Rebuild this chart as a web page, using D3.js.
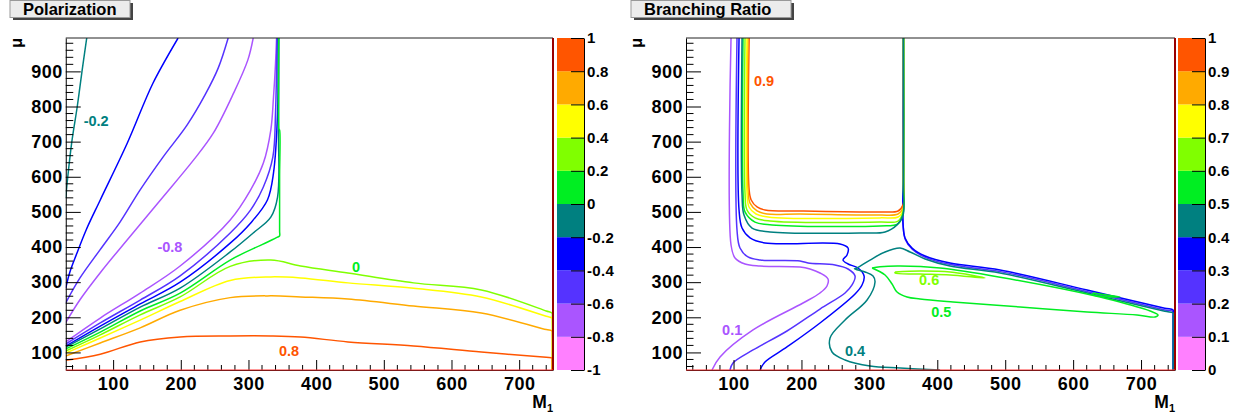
<!DOCTYPE html>
<html>
<head>
<meta charset="utf-8">
<script src="https://cdn.jsdelivr.net/npm/d3@7"></script>
<style>
body { margin: 0; background: #fff; }
svg { display: block; font-family: "Liberation Sans", Arial, sans-serif; font-weight: bold; }
</style>
</head>
<body>
<svg id="chart" width="1242" height="414"></svg>
<script>
// axis values
const xTicks = [100, 200, 300, 400, 500, 600, 700];
const yTicks = [100, 200, 300, 400, 500, 600, 700, 800, 900];

// palettes (one colour per band, bottom to top)
const bandColors = ["#ff80ff", "#aa55ff", "#5533ff", "#0000ff", "#008080", "#00ee22", "#80ff00", "#ffff00", "#ffaa00", "#ff5500"];
const polBands = [-1, -0.8, -0.6, -0.4, -0.2, 0, 0.2, 0.4, 0.6, 0.8, 1];
const polBandLabels = ["-1", "-0.8", "-0.6", "-0.4", "-0.2", "0", "0.2", "0.4", "0.6", "0.8", "1"];
const brBands = [0, 0.1, 0.2, 0.3, 0.4, 0.5, 0.6, 0.7, 0.8, 0.9, 1];
const brBandLabels = ["0", "0.1", "0.2", "0.3", "0.4", "0.5", "0.6", "0.7", "0.8", "0.9", "1"];

// Polarization contours, [M1, mu]
const pol_m02_a = [[30,540],[33,600],[39,700],[47,800],[54,900],[61,995]];
const pol_m04_a = [[30,283],[36,328],[46,380],[60,448],[81,534],[121,696],[159,867],[196,995]];
const pol_m06_a = [[30,241],[51,312],[80.6,392],[110.2,471],[139.7,562],[173.7,656],[209.2,747],[235.8,833],[255.4,910],[270,995]];
const pol_m08_a = [[30,185],[51,250],[81,327],[121,421],[170,534],[219,648],[248,724],[278,838],[299,932],[307,995]];
const pol_m08_b = [[30,130],[81,198],[140,269],[199,346],[273,477],[303,562],[322,639],[333,733],[337,827],[340,924],[341.5,995]];
const pol_m06_b = [[30,124],[81,184],[140,249],[199,318],[273,440],[303,505],[322,571],[336,656],[340,782],[342,995]];
const pol_m04_b = [[30,118],[81,175],[140,238],[199,300],[273,411],[303,468],[328,534],[337,611],[343,782],[343.7,995]];
const pol_m02_b = [[30,115],[81,167],[140,229],[199,283],[273,386],[307,440],[333,485],[343,542],[344.4,733],[345,995]];
const pol_00 = [[30,110],[81,158],[140,218],[199,269],[273,363],[320,407],[343,428],[346,432],[346,445],[346,600],[346,733],[345,736],[344.5,750],[344.5,995]];
const pol_02 = [[30,104],[81,150],[140,207],[199,258],[273,345],[333,363],[377,346],[447,326],[544,298],[644,278],[740,218],[748.5,212],[749,200],[749,50]];
const pol_04 = [[30,98],[81,141],[140,192],[199,245],[273,305],[333,315],[377,312],[447,298],[544,283],[644,258],[740,203],[748.5,198],[749,186],[749,50]];
const pol_06 = [[30,90],[81,127],[140,170],[199,220],[273,256],[333,261],[377,258],[447,252],[544,232],[644,212],[740,165],[748.5,161],[749,150],[749,50]];
const pol_08 = [[30,78],[81,95],[140,130],[199,144],[273,147],[333,147],[377,144],[447,130],[544,118],[644,101],[740,86],[748.5,84],[749,75],[749,50]];

const polContours = [
  [-0.2, pol_m02_a], [-0.4, pol_m04_a], [-0.6, pol_m06_a], [-0.8, pol_m08_a],
  [-0.8, pol_m08_b], [-0.6, pol_m06_b], [-0.4, pol_m04_b], [-0.2, pol_m02_b],
  [0, pol_00], [0.2, pol_02], [0.4, pol_04], [0.6, pol_06], [0.8, pol_08]
];
const polLabels = [["-0.2", 75, 759, -0.2], ["-0.8", 184, 400, -0.8], ["0", 459, 343, 0], ["0.8", 360, 104, 0.8]];

// Branching ratio contours, [M1, mu]
const br_09 = [[123,995],[123,562],[126,534],[134.6,514],[146.3,505.5],[197.9,502.6],[315.7,499.8],[342.2,502.6],[349.6,520],[350.3,600],[350.3,995]];
const br_08 = [[121.3,995],[121.3,562],[124.3,525],[134.6,503],[149.3,494],[197.9,494],[315.7,491],[342.2,494],[349.6,511],[350.3,590],[350.3,995]];
const br_07 = [[119.8,995],[119.8,557],[122.8,514],[133.1,494],[150.8,485.5],[315.7,483],[342.2,485.5],[349.6,505],[350.3,580],[350.3,995]];
const br_06a = [[116.9,995],[116.9,554],[119.8,505.5],[131.6,483],[153.7,474],[315.7,471],[342.2,474],[349.6,500],[350.3,575],[350.3,995]];
const br_05a = [[114,995],[114,554],[116.9,500],[131.6,471],[156.7,463],[315.7,460],[342.2,466],[349.6,494],[350.3,570],[350.3,995]];
const br_04a = [[112.5,995],[112.5,548],[115.4,491],[127.2,454],[153.7,443],[286.3,440],[323.1,443],[340.7,463],[349.6,491],[350.3,565],[350.3,995]];
const br_03 = [[108.1,995],[108.1,505.5],[112.5,454],[124.3,426],[146.3,411.5],[256.8,408.7],[268.6,397.3],[267.1,377.4],[261.2,363.2],[268.6,351.7],[283.3,340.4],[292.2,317.6],[289.2,292],[278.9,266.4],[227.3,183.8],[178.7,115.5],[146.3,72.8],[139,50]];
const br_02 = [[105.1,995],[105.1,448.5],[109.5,397.3],[121.3,371.7],[139,363.2],[197.9,360.3],[209.7,354.6],[249.4,348.9],[268.6,337.5],[278.9,317.6],[274.5,292],[264.2,269.2],[227.3,223.6],[178.7,161],[128.7,107],[99.2,70],[94.8,50]];
const br_01 = [[96.3,995],[96.3,405.8],[102.2,368.8],[116.9,351.7],[139,346],[197.9,343.2],[212.6,337.5],[227.3,326.1],[239.1,309],[237.6,289],[227.3,269.2],[202.3,240.7],[128.7,163.9],[80.1,87],[68.3,50]];
const br_03_r = [[349.6,995],[349.6,600],[349.6,463],[352.5,426],[362.8,397],[382,374.5],[418.8,354.6],[492.4,334.7],[620.6,277.7],[735,226],[747.2,220.8],[747.2,210],[747.2,50]];
const br_02_r = [[349.9,995],[349.9,600],[349.9,458],[353,421],[363.5,393],[383,370],[419.5,350],[493,330],[621,273],[735,221],[747.5,216],[747.5,205],[747.5,50]];
const br_04b = [[747.2,50],[747.2,200],[747.2,212],[735,217],[620.6,269],[492.4,326],[418.8,346],[382,366],[359.9,386],[345.2,397],[323.1,386],[301,363],[281.8,340.4],[278,338],[293.6,329],[305.4,317.6],[308.3,300.5],[296.6,249.3],[264.2,192.3],[242.1,141.1],[245,101.2],[264.2,78.5],[301,61.4],[345.2,55.7],[404.1,50]];
const br_05b = [[303.9,340.4],[323.1,320.4],[333.4,294.8],[340.7,272],[355.5,257.8],[374.6,252.1],[423.2,243.6],[521.9,229.3],[620.6,215.1],[694.2,206.6],[720.7,200.9],[725.1,206.6],[713.4,218],[679.5,237.9],[639.7,257.8],[492.4,314],[404.1,340],[345.2,346],[315.7,344],[303.9,340.4]];
const br_05c = [[629.4,269],[669.2,258],[629.4,264],[629.4,269]];
const br_06b = [[337.8,329],[374.6,331.8],[418.8,329],[470.4,312],[418.8,320.4],[374.6,323.3],[337.8,326.1],[337.8,329]];

const brContours = [
  [0.2, br_02_r], [0.3, br_03_r],
  [0.9, br_09], [0.8, br_08], [0.7, br_07], [0.6, br_06a], [0.5, br_05a], [0.4, br_04a],
  [0.1, br_01], [0.2, br_02], [0.3, br_03],
  [0.4, br_04b], [0.5, br_05b], [0.5, br_05c], [0.6, br_06b]
];
const brLabels = [["0.9", 145, 873, 0.9], ["0.1", 98, 164, 0.1], ["0.4", 279, 104, 0.4], ["0.6", 388, 306, 0.6], ["0.5", 406, 215, 0.5]];

const svg = d3.select("#chart");
const top_y = 38, bot_y = 370;
const y = d3.scaleLinear().domain([50, 995]).range([bot_y, top_y]);

function drawPanel(p) {
	const x = d3.scaleLinear().domain([30, 750]).range([p.left, p.right]);
	const pal = d3.scaleLinear().domain([p.bands[0], p.bands[p.bands.length - 1]]).range([bot_y, top_y]);
	const step = p.bands[1] - p.bands[0];
	const colorOf = lv => bandColors[Math.min(9, Math.floor((lv - p.bands[0]) / step + 1e-6))];
	const g = svg.append("g");

	// title box
	g.append("rect").attr("x", p.boxX + 3).attr("y", 3).attr("width", p.boxW).attr("height", 17).attr("fill", "#444");
	g.append("rect").attr("x", p.boxX).attr("y", 0.5).attr("width", p.boxW).attr("height", 17)
		.attr("fill", "#ececec").attr("stroke", "#999");
	g.append("text").attr("x", p.boxX + 13).attr("y", 15).attr("font-size", 16.5).text(p.title);

	// contours
	const clipId = "clip" + p.id;
	svg.append("clipPath").attr("id", clipId).append("rect")
		.attr("x", p.left).attr("y", top_y).attr("width", p.right - p.left).attr("height", bot_y - top_y);
	const line = d3.line().x(d => x(d[0])).y(d => y(d[1])).curve(d3.curveCatmullRom.alpha(0.5));
	g.append("g").attr("clip-path", `url(#${clipId})`)
		.selectAll("path").data(p.contours).join("path")
		.attr("d", d => line(d[1]))
		.attr("fill", "none")
		.attr("stroke", d => colorOf(d[0]))
		.attr("stroke-width", 1.5);

	// contour labels
	g.selectAll("text.lbl").data(p.labels).join("text").attr("class", "lbl")
		.attr("x", d => x(d[1])).attr("y", d => y(d[2]))
		.attr("dy", "0.36em").attr("text-anchor", "middle").attr("font-size", 14.5)
		.attr("fill", d => colorOf(d[3])).text(d => d[0]);

	// frame
	g.append("line").attr("x1", p.left).attr("x2", p.right).attr("y1", top_y).attr("y2", top_y).attr("stroke", "#222");
	g.append("line").attr("x1", p.right).attr("x2", p.right).attr("y1", top_y).attr("y2", bot_y)
		.attr("stroke", "#990000").attr("stroke-width", 2);

	// minor ticks
	const minorX = d3.range(40, 750, 20).filter(v => v % 100 !== 0);
	const minorY = d3.range(60, 995, 20).filter(v => v % 100 !== 0);
	g.selectAll("line.mx").data(minorX).join("line").attr("class", "mx")
		.attr("x1", d => x(d)).attr("x2", d => x(d)).attr("y1", bot_y).attr("y2", bot_y - 5).attr("stroke", "#000");
	g.selectAll("line.my").data(minorY).join("line").attr("class", "my")
		.attr("x1", p.left).attr("x2", p.left + 7.5).attr("y1", d => y(d)).attr("y2", d => y(d)).attr("stroke", "#000");

	// axes
	const ax = g.append("g").attr("transform", `translate(0,${bot_y})`)
		.call(d3.axisBottom(x).tickValues(xTicks).tickSizeInner(-10).tickSizeOuter(0).tickPadding(7));
	const ay = g.append("g").attr("transform", `translate(${p.left},0)`)
		.call(d3.axisLeft(y).tickValues(yTicks).tickSizeInner(-15).tickSizeOuter(0).tickPadding(3));
	[ax, ay].forEach(a => {
		a.selectAll("text").attr("font-size", 18).attr("font-family", null).attr("letter-spacing", 0.5);
		a.selectAll("line").attr("stroke", "#000");
		a.select(".domain").attr("stroke", "#000");
	});
	g.append("line").attr("x1", p.left).attr("x2", p.right).attr("y1", bot_y).attr("y2", bot_y)
		.attr("stroke", "#ff3333").attr("stroke-width", 1);

	// palette
	g.selectAll("rect.band").data(d3.range(10)).join("rect").attr("class", "band")
		.attr("x", p.palX).attr("width", 27)
		.attr("y", i => pal(p.bands[i + 1])).attr("height", i => pal(p.bands[i]) - pal(p.bands[i + 1]))
		.attr("fill", i => bandColors[i]);
	const ap = g.append("g").attr("transform", `translate(${p.palX + 27},0)`)
		.call(d3.axisRight(pal).tickValues(p.bands).tickSizeInner(-13).tickSizeOuter(0).tickPadding(3)
			.tickFormat((d, i) => p.bandLabels[i]));
	ap.selectAll("text").attr("font-size", 15).attr("font-family", null).attr("letter-spacing", 0.3);
	ap.selectAll("line").attr("stroke", "#000");
	ap.select(".domain").attr("stroke", "#000");

	// axis titles
	g.append("text").attr("transform", `translate(${p.left - 44},${top_y}) rotate(-90)`)
		.attr("text-anchor", "end").attr("font-size", 16).text("\u03bc");
	const mt = g.append("text").attr("x", p.right).attr("y", 408).attr("text-anchor", "end").attr("font-size", 17.5);
	mt.append("tspan").text("M");
	mt.append("tspan").attr("font-size", 11).attr("dy", 4).text("1");
}

drawPanel({id: "pol", left: 65.75, right: 553, palX: 557, boxX: 10, boxW: 120, title: "Polarization",
	bands: polBands, bandLabels: polBandLabels, contours: polContours, labels: polLabels});
drawPanel({id: "br", left: 686, right: 1175, palX: 1178, boxX: 631, boxW: 160, title: "Branching Ratio",
	bands: brBands, bandLabels: brBandLabels, contours: brContours, labels: brLabels});
</script>
</body>
</html>
